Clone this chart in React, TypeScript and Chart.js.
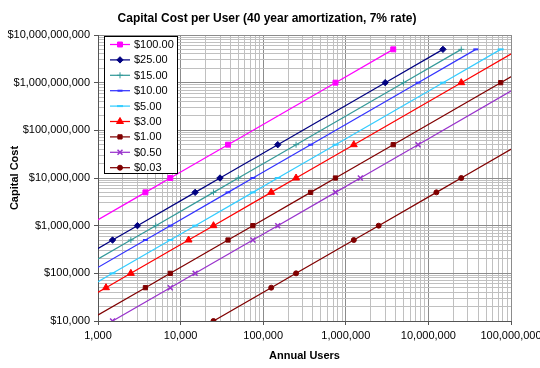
import React, { useEffect, useRef } from "react";
import { Chart, registerables } from "chart.js";
import { drawPoint } from "chart.js/helpers";

Chart.register(...registerables);

// ---- data ----
const seriesLabels = ["$100.00", "$25.00", "$15.00", "$10.00", "$5.00", "$3.00", "$1.00", "$0.50", "$0.03"];

// capital cost levels at which every series has a data point
const costLevels = [10000, 50000, 100000, 500000, 1000000, 5000000, 10000000, 50000000, 1000000000, 5000000000];

// annual users for each cost level (null = point not part of the plotted range)
const users100 = [null, null, null, null, 750, 3750, 7500, 37500, 750000, 3750000];
const users25 = [null, null, 300, 1500, 3000, 15000, 30000, 150000, 3000000, 15000000];
const users15 = [null, null, 500, 2500, 5000, 25000, 50000, 250000, 5000000, 25000000];
const users10 = [null, null, 750, 3750, 7500, 37500, 75000, 375000, 7500000, 37500000];
const users5 = [null, 750, 1500, 7500, 15000, 75000, 150000, 750000, 15000000, 75000000];
const users3 = [250, 1250, 2500, 12500, 25000, 125000, 250000, 1250000, 25000000, 125000000];
const users1 = [750, 3750, 7500, 37500, 75000, 375000, 750000, 3750000, 75000000, 375000000];
const users050 = [1500, 7500, 15000, 75000, 150000, 750000, 1500000, 7500000, 150000000, null];
const users003 = [25000, 125000, 250000, 1250000, 2500000, 12500000, 25000000, 125000000, null, null];

const xMajorValues = [1000, 10000, 100000, 1000000, 10000000, 100000000];
const xTickLabels = ["1,000", "10,000", "100,000", "1,000,000", "10,000,000", "100,000,000"];
const yMajorValues = [10000, 100000, 1000000, 10000000, 100000000, 1000000000, 10000000000];
const yTickLabels = ["$10,000", "$100,000", "$1,000,000", "$10,000,000", "$100,000,000", "$1,000,000,000", "$10,000,000,000"];

const titleText = "Capital Cost per User (40 year amortization, 7% rate)";
const xTitle = "Annual Users";
const yTitle = "Capital Cost";

// ---- styles ----
const seriesUsers = [users100, users25, users15, users10, users5, users3, users1, users050, users003];
const seriesStyle = [
  { color: "#ff00ff", point: "rect", r: 3.5, bw: 1 },
  { color: "#000080", point: "rectRot", r: 3.2, bw: 1 },
  { color: "#339999", point: "cross", r: 3, bw: 1 },
  { color: "#3333ff", point: "line", r: 2.5, bw: 2 },
  { color: "#33ccff", point: "line", r: 3, bw: 2 },
  { color: "#ff0000", point: "triangle", r: 4, bw: 1 },
  { color: "#800000", point: "rect", r: 3, bw: 1 },
  { color: "#9933cc", point: "crossRot", r: 3.5, bw: 1.5 },
  { color: "#800000", point: "circle", r: 2.5, bw: 1 },
];

const FONT = "'Liberation Sans', Arial, sans-serif";

function withMinor(majors: number[]): number[] {
  const out: number[] = [];
  for (let i = 0; i < majors.length - 1; i++) {
    for (let m = 1; m <= 9; m++) out.push(majors[i] * m);
  }
  out.push(majors[majors.length - 1]);
  return out;
}

function majorIndex(list: number[], v: number): number {
  return list.findIndex((m) => Math.abs(m - v) / m < 1e-9);
}

const titleAndLegend = {
  id: "titleAndLegend",
  afterDraw(chart: any) {
    const ctx = chart.ctx as CanvasRenderingContext2D;
    const area = chart.chartArea;
    ctx.save();
    // title
    ctx.font = `bold 12px ${FONT}`;
    ctx.fillStyle = "#000000";
    ctx.textAlign = "center";
    ctx.textBaseline = "middle";
    ctx.fillText(titleText, chart.width / 2 - 3, 19);

    // boxed legend inside the plot area
    const x0 = Math.round(area.left) + 6;
    const y0 = Math.round(area.top) + 1;
    const w = 73;
    const rowH = 15.4;
    const h = 137;
    ctx.fillStyle = "#ffffff";
    ctx.fillRect(x0, y0, w, h);
    ctx.strokeStyle = "#000000";
    ctx.lineWidth = 1;
    ctx.strokeRect(x0 + 0.5, y0 + 0.5, w, h);
    ctx.font = `11px ${FONT}`;
    ctx.textBaseline = "middle";
    ctx.textAlign = "left";
    chart.data.datasets.forEach((ds: any, i: number) => {
      const st = seriesStyle[i];
      const y = y0 + 8 + i * rowH;
      ctx.strokeStyle = st.color;
      ctx.fillStyle = st.color;
      ctx.lineWidth = 1.25;
      ctx.beginPath();
      ctx.moveTo(x0 + 6, y + 0.5);
      ctx.lineTo(x0 + 26, y + 0.5);
      ctx.stroke();
      ctx.lineWidth = st.bw;
      drawPoint(ctx, { pointStyle: st.point, rotation: 0, radius: st.r, borderWidth: st.bw } as any, x0 + 16, y + 0.5);
      ctx.fillStyle = "#000000";
      ctx.fillText(ds.label, x0 + 30, y + 1);
    });
    ctx.restore();
  },
};

export default function App() {
  const ref = useRef<HTMLCanvasElement | null>(null);

  useEffect(() => {
    if (!ref.current) return;
    Chart.defaults.font.family = FONT;
    Chart.defaults.color = "#000000";

    const datasets = seriesLabels.map((label, i) => {
      const st = seriesStyle[i];
      const data = costLevels
        .map((c, k) => ({ x: seriesUsers[i][k], y: c }))
        .filter((p) => p.x !== null);
      return {
        label,
        data,
        borderColor: st.color,
        backgroundColor: st.color,
        borderWidth: 1.25,
        pointStyle: st.point,
        pointRadius: st.r,
        pointHoverRadius: st.r,
        pointBorderWidth: st.bw,
        pointBackgroundColor: st.color,
        pointBorderColor: st.color,
        tension: 0,
        fill: false,
      };
    });

    const xTicks = withMinor(xMajorValues);
    const yTicks = withMinor(yMajorValues);

    const chart = new Chart(ref.current, {
      type: "line",
      data: { datasets } as any,
      plugins: [titleAndLegend],
      options: {
        responsive: false,
        animation: false,
        devicePixelRatio: 1,
        layout: { padding: { top: 35, right: 29, bottom: 0, left: 0 } },
        plugins: {
          legend: { display: false },
          tooltip: { enabled: false },
          title: { display: false },
        },
        scales: {
          x: {
            type: "logarithmic",
            min: 1000,
            max: 100000000,
            afterBuildTicks: (scale: any) => {
              scale.ticks = xTicks.map((v) => ({ value: v, major: majorIndex(xMajorValues, v) >= 0 }));
            },
            afterFit: (scale: any) => {
              scale.height = 47;
              scale.paddingLeft = 0;
              scale.paddingRight = 0;
            },
            ticks: {
              autoSkip: false,
              maxRotation: 0,
              minRotation: 0,
              padding: 4,
              font: { size: 11, family: FONT },
              color: "#000000",
              callback: (v: any) => {
                const i = majorIndex(xMajorValues, Number(v));
                return i >= 0 ? xTickLabels[i] : "";
              },
            },
            grid: {
              color: (c: any) => (majorIndex(xMajorValues, c.tick?.value) >= 0 ? "#8c8c8c" : "#c0c0c0"),
              tickColor: (c: any) => (majorIndex(xMajorValues, c.tick?.value) >= 0 ? "#555555" : "rgba(0,0,0,0)"),
              tickLength: 4,
              lineWidth: 1,
            },
            border: { display: true, color: "#555555", width: 1 },
            title: {
              display: true,
              text: xTitle,
              font: { size: 11, weight: "bold", family: FONT },
              color: "#000000",
              padding: { top: 0, bottom: 5 },
            },
          },
          y: {
            type: "logarithmic",
            min: 10000,
            max: 10000000000,
            afterBuildTicks: (scale: any) => {
              scale.ticks = yTicks.map((v) => ({ value: v, major: majorIndex(yMajorValues, v) >= 0 }));
            },
            afterFit: (scale: any) => {
              scale.width = 98;
              scale.paddingTop = 0;
              scale.paddingBottom = 0;
            },
            ticks: {
              autoSkip: false,
              padding: 4,
              font: { size: 11, family: FONT },
              color: "#000000",
              callback: (v: any) => {
                const i = majorIndex(yMajorValues, Number(v));
                return i >= 0 ? yTickLabels[i] : "";
              },
            },
            grid: {
              color: (c: any) => (majorIndex(yMajorValues, c.tick?.value) >= 0 ? "#8c8c8c" : "#c0c0c0"),
              tickColor: (c: any) => (majorIndex(yMajorValues, c.tick?.value) >= 0 ? "#555555" : "rgba(0,0,0,0)"),
              tickLength: 4,
              lineWidth: 1,
            },
            border: { display: true, color: "#555555", width: 1 },
            title: {
              display: true,
              text: yTitle,
              font: { size: 11, weight: "bold", family: FONT },
              color: "#000000",
              padding: { top: 8, bottom: 0 },
            },
          },
        },
      } as any,
    });
    return () => chart.destroy();
  }, []);

  return (
    <div style={{ position: "absolute", left: 0, top: 0, width: 540, height: 368, background: "#ffffff" }}>
      <canvas ref={ref} width={540} height={368} style={{ display: "block", width: 540, height: 368 }} />
    </div>
  );
}
